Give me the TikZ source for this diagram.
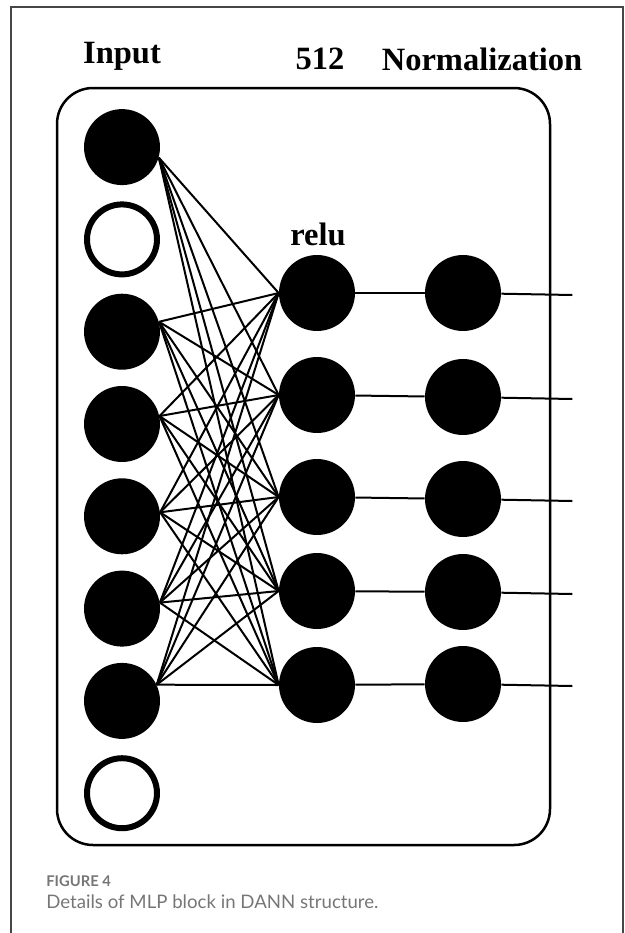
\documentclass[tikz,border=0pt]{standalone}
\usepackage{fontspec}
\setmainfont{Liberation Serif}
\newfontfamily\captionfont{Lato}
\usetikzlibrary{calc}
\definecolor{captiongray}{RGB}{118,118,118}
\definecolor{framegray}{RGB}{70,70,70}
\tikzset{
  every neuron/.style={circle, fill=black, inner sep=0pt, minimum size=1.52cm},
  neuron empty/.style={fill=none, draw=black, line width=0.12cm, minimum size=1.40cm},
  layer label/.style={font=\bfseries\fontsize{18.5}{22}\selectfont, inner sep=0pt},
  link/.style={line width=0.04cm},
  caption text/.style={anchor=west, inner sep=0pt, text=captiongray},
}
\begin{document}
\begin{tikzpicture}[x=0.02cm, y=-0.02cm]
\useasboundingbox (0,0) rectangle (625,933);
% page frame and block outline
\draw [line width=0.035cm, framegray] (11,933) -- (11,7) -- (623,7) -- (623,933);
\draw [line width=0.05cm, rounded corners=0.72cm] (57,88) rectangle (550,845);

\foreach \m [count=\y] in {1,empty,3,4,5,6,7,empty}
  \node [every neuron/.try, neuron \m/.try] (input-\y) at (122,54.8+\y*92.3) {};

\foreach \m/\h in {1/293,2/395,3/497,4/591,5/685}
  \node [every neuron/.try] (hidden-\m) at (317,\h) {};

\foreach \m/\h in {1/293,2/397,3/499,4/592,5/684}
  \node [every neuron/.try] (norm-\m) at (463,\h) {};

\foreach \i in {1,...,5}
  \coordinate (output-\i) at ($(norm-\i.east)+(71,2)$);

\foreach \i/\a in {1/-16,3/15,4/12,5/6,6/9,7/25}
  \foreach \j in {1,...,5}
    \draw [link] (input-\i.\a) -- (hidden-\j.west);

\foreach \i in {1,...,5}
  \draw [link] (hidden-\i) -- (norm-\i);

\foreach \i in {1,...,5}
  \draw [link] (norm-\i) -- (output-\i);

% layer titles
\node [layer label] (title-input) at (122,56) {Input};
\node [layer label] (title-size) at (320,59) {512};
\node [layer label] (title-norm) at (482,59) {Normalization};
\node [layer label] (title-relu) at (318,234) {relu};

% caption
\node [caption text, font=\captionfont\bfseries\fontsize{8.4}{10}\selectfont] (fig-num) at (46,881) {FIGURE 4};
\node [caption text, font=\captionfont\fontsize{10.6}{13}\selectfont] (fig-text) at (46,902) {Details of MLP block in DANN structure.};
\end{tikzpicture}
\end{document}
